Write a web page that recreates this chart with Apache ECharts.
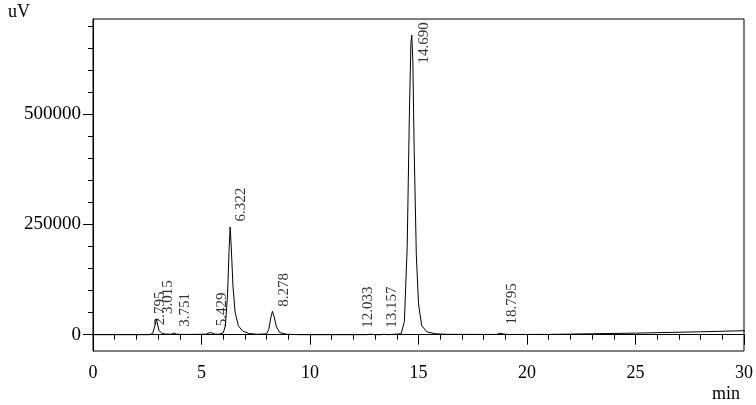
<!DOCTYPE html>
<html>
<head>
<meta charset="utf-8">
<script src="https://cdn.jsdelivr.net/npm/echarts@6/dist/echarts.min.js"></script>
<style>
  html, body { margin: 0; padding: 0; background: #fff; }
  #chart { width: 756px; height: 405px; }
</style>
</head>
<body>
<div id="chart"></div>
<script>
// detector trace, time in min, signal in uV
const signalTime = [
  0, 2.6, 2.75, 2.85, 2.92, 2.98, 3.05, 3.15, 3.3, 3.6, 3.75, 3.85, 4.2,
  5.2, 5.35, 5.45, 5.6, 5.8, 6.0, 6.1, 6.2, 6.27, 6.32, 6.37, 6.45, 6.55, 6.7, 6.9, 7.2, 7.6,
  8.0, 8.1, 8.2, 8.27, 8.35, 8.45, 8.6, 8.9, 9.5,
  12.6, 12.8, 13.0, 13.3, 13.4, 13.6,
  14.2, 14.35, 14.48, 14.58, 14.65, 14.69, 14.74, 14.8, 14.9, 15.0, 15.15, 15.4, 15.8, 16.3,
  18.6, 18.75, 18.8, 18.9, 19.1, 21, 25, 28, 30, 30.55
]
const signalValue = [
  0, 0, 3000, 20000, 36000, 22000, 9000, 4000, 1500, 1000, 3500, 1200, 500,
  1000, 4000, 4500, 1500, 1000, 4000, 20000, 90000, 190000, 244000, 200000, 110000, 50000, 20000, 8000, 2500, 800,
  2000, 12000, 40000, 53000, 40000, 18000, 5000, 1000, 0,
  0, 1200, 0, 0, 1000, 0,
  2000, 30000, 200000, 500000, 660000, 679000, 620000, 420000, 180000, 70000, 20000, 6000, 2000, 800,
  500, 3500, 4000, 1500, 500, 600, 3500, 6500, 9000, -7000
]

const peakLabels = ['2.795', '3.015', '3.751', '5.429', '6.322', '8.278', '12.033', '13.157', '14.690', '18.795']
const peakHeights = [36000, 12000, 3500, 4500, 244000, 53000, 1000, 800, 679000, 4000]

const xLabelValues = [0, 5, 10, 15, 20, 25, 30]
const xMinorValues = [1, 2, 3, 4, 6, 7, 8, 9, 11, 12, 13, 14, 16, 17, 18, 19, 21, 22, 23, 24, 26, 27, 28, 29]
const yLabelValues = [0, 250000, 500000]
const yMinorValues = [50000, 100000, 150000, 200000, 300000, 350000, 400000, 450000, 550000, 600000, 650000, 700000]

// label offsets in px from the apex: [dx, dy to the label's bottom]
const labelOffsets = [[7, 7], [10, -15], [11, -6], [12, -6], [11, -5], [12, -4], [14, -6], [14, -6], [13, 29], [12, -8]]

const font = 'Liberation Serif'
const chart = echarts.init(document.getElementById('chart'))

const lineData = signalTime.map((t, i) => [t, signalValue[i]])
const labelData = peakLabels.map((s, i) => ({
  value: [parseFloat(s), peakHeights[i]],
  label: { position: labelOffsets[i] }
}))

const xBase = {
  type: 'value',
  min: 0,
  max: 30,
  position: 'bottom',
  offset: 0,
  splitLine: { show: false },
  axisLine: { lineStyle: { color: '#000', width: 1 } }
}

const yBase = {
  type: 'value',
  min: -37000,
  max: 715500,
  position: 'left',
  offset: 0,
  splitLine: { show: false },
  axisLine: { show: true, lineStyle: { color: '#000', width: 1 } }
}

const option = {
  animation: false,
  grid: {
    left: 93, right: 12, top: 19, bottom: 54,
    show: true, borderColor: '#000', borderWidth: 1
  },
  xAxis: [
    Object.assign({}, xBase, {
      axisTick: { length: 10, customValues: xLabelValues, lineStyle: { color: '#000' } },
      axisLabel: { color: '#000', fontFamily: font, fontSize: 18, margin: 13, customValues: xLabelValues }
    }),
    Object.assign({}, xBase, {
      axisTick: { length: 5, customValues: xMinorValues, lineStyle: { color: '#000' } },
      axisLabel: { show: false }
    })
  ],
  yAxis: [
    Object.assign({}, yBase, {
      axisTick: { show: true, length: 10, customValues: yLabelValues, lineStyle: { color: '#000' } },
      axisLabel: {
        color: '#000', fontFamily: font, fontSize: 19, margin: 12,
        customValues: yLabelValues, formatter: v => String(v)
      }
    }),
    Object.assign({}, yBase, {
      axisTick: { show: true, length: 5, customValues: yMinorValues, lineStyle: { color: '#000' } },
      axisLabel: { show: false }
    })
  ],
  graphic: [
    { type: 'text', left: 8, top: 3, style: { text: 'uV', font: '18px "Liberation Serif"', fill: '#000' } },
    { type: 'text', left: 712, top: 385, style: { text: 'min', font: '18px "Liberation Serif"', fill: '#000' } }
  ],
  series: [
    {
      type: 'line',
      data: lineData,
      showSymbol: false,
      clip: false,
      lineStyle: { color: '#000', width: 1 }
    },
    {
      type: 'scatter',
      data: labelData,
      symbolSize: 1,
      itemStyle: { color: 'rgba(0,0,0,0)' },
      label: {
        show: true,
        rotate: 90,
        align: 'left',
        verticalAlign: 'middle',
        color: '#000',
        fontFamily: font,
        fontSize: 15,
        formatter: p => peakLabels[p.dataIndex]
      }
    }
  ]
}

chart.setOption(option)
</script>
</body>
</html>
